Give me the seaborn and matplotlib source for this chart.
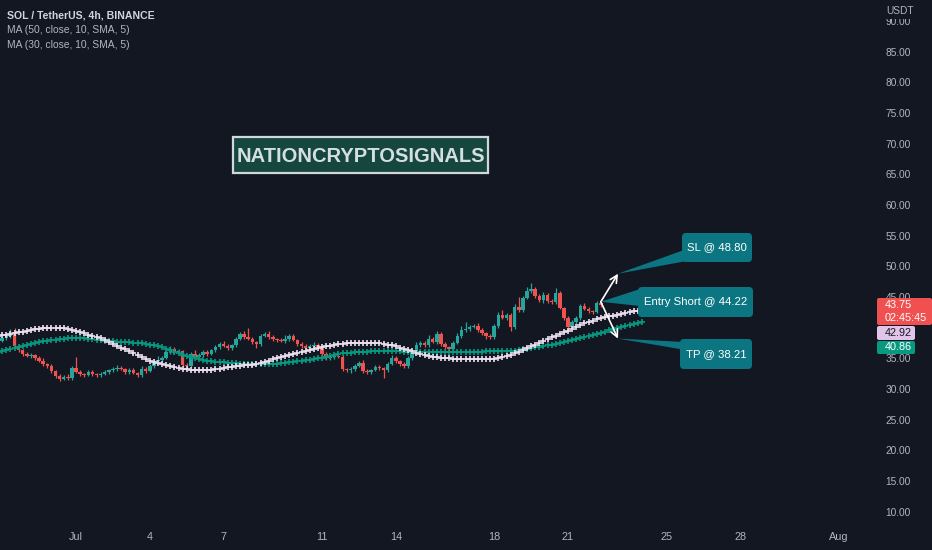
import numpy as np
import pandas as pd
import matplotlib.pyplot as plt
from matplotlib.patches import Polygon, FancyBboxPatch
from matplotlib.transforms import Affine2D
import seaborn as sns

# SOL/USDT 4h closes, Jun 27 20:00 -> Jul 22 08:00
closes = [
    37.82, 38.31, 38.64, 39.29, 37.01, 36.36, 35.70, 35.38, 35.54, 35.05,
    34.56, 34.07, 33.75, 32.93, 32.11, 31.63, 31.95, 31.79, 33.42, 32.77,
    32.44, 32.28, 32.77, 32.44, 32.28, 32.44, 32.77, 33.09, 33.26, 33.42,
    33.26, 32.77, 33.09, 32.60, 32.28, 33.26, 32.93, 33.75, 34.56, 34.72,
    35.05, 36.03, 36.52, 36.03, 36.19, 33.91, 33.75, 35.70, 35.21, 35.54,
    36.03, 35.70, 36.36, 36.84, 37.33, 37.01, 36.68, 37.17, 38.15, 38.97,
    38.48, 38.15, 37.66, 37.33, 38.64, 38.97, 38.48, 38.15, 37.99, 37.82,
    38.15, 38.64, 37.99, 37.33, 37.01, 36.68, 37.01, 37.17, 36.84, 35.70,
    35.05, 35.21, 35.38, 35.21, 33.26, 33.09, 33.26, 33.75, 34.23, 32.93,
    32.77, 33.09, 33.58, 33.42, 33.09, 34.07, 35.05, 34.56, 34.07, 33.75,
    35.05, 36.19, 37.17, 37.50, 37.17, 38.15, 37.66, 38.97, 37.33, 36.84,
    36.52, 37.50, 38.64, 39.62, 39.78, 40.11, 40.27, 39.62, 39.13, 38.64,
    38.48, 40.27, 42.06, 41.57, 42.06, 40.11, 43.37, 42.88, 44.84, 45.98,
    46.30, 45.16, 44.51, 45.33, 44.35, 44.18, 45.65, 43.21, 41.57, 40.11,
    40.92, 41.57, 43.53, 43.04, 42.72, 42.55, 44.02, 43.75,
]
first_open = 38.48

# wick length above / below the body of each candle
upper_wick = [
    0.3, 0.4, 0.2, 0.5, 0.6, 0.3, 0.2, 0.4, 0.3, 0.2,
    0.3, 0.5, 0.2, 0.3, 0.2, 0.4, 0.3, 0.5, 0.4, 1.8,
    0.3, 0.2, 0.4, 0.3, 0.2, 0.3, 0.4, 0.2, 0.3, 0.5,
    0.3, 0.2, 0.4, 0.3, 0.2, 0.5, 0.3, 0.4, 0.3, 0.6,
    0.4, 0.3, 0.5, 0.3, 0.4, 0.2, 0.3, 0.4, 0.6, 0.3,
    0.4, 0.3, 0.2, 0.4, 0.3, 0.5, 0.3, 0.2, 0.4, 0.3,
    0.5, 1.4, 0.3, 0.2, 0.4, 0.3, 0.5, 0.3, 0.2, 0.3,
    0.6, 0.4, 0.3, 0.2, 0.3, 0.4, 0.3, 0.5, 0.3, 0.2,
    0.3, 0.4, 0.3, 0.2, 0.3, 0.2, 0.3, 0.4, 0.3, 0.5,
    0.3, 0.2, 0.4, 0.3, 0.2, 0.4, 0.5, 0.3, 0.2, 0.3,
    0.4, 0.3, 0.5, 0.4, 0.3, 0.6, 0.3, 0.5, 0.4, 0.3,
    0.2, 0.4, 0.5, 0.6, 1.1, 0.4, 0.3, 0.5, 0.3, 0.2,
    0.3, 0.4, 0.5, 0.9, 0.4, 0.3, 0.5, 1.6, 0.4, 0.6,
    1.0, 0.4, 0.3, 0.5, 0.3, 0.4, 0.85, 0.3, 0.2, 0.3,
    0.4, 0.3, 0.4, 0.5, 0.3, 0.2, 0.4, 0.3,
]
lower_wick = [
    0.3, 0.2, 0.4, 0.3, 0.3, 0.4, 0.3, 0.2, 0.4, 0.3,
    0.2, 0.4, 0.3, 0.3, 0.4, 0.3, 0.2, 0.4, 0.3, 0.2,
    0.4, 0.3, 0.2, 0.3, 0.4, 0.3, 0.2, 0.4, 0.3, 0.3,
    0.2, 0.4, 0.3, 0.2, 0.3, 0.4, 0.3, 0.2, 0.3, 0.4,
    0.3, 0.2, 0.3, 0.4, 0.3, 0.3, 0.5, 0.3, 0.2, 0.3,
    0.4, 0.3, 0.2, 0.3, 0.4, 0.2, 0.3, 0.4, 0.3, 0.2,
    0.3, 0.2, 0.4, 0.6, 0.3, 0.2, 0.3, 0.4, 0.3, 0.2,
    0.3, 0.4, 0.2, 0.3, 0.4, 0.3, 0.2, 0.3, 0.4, 0.3,
    0.3, 0.4, 0.3, 0.2, 0.4, 0.3, 0.5, 0.3, 0.2, 0.3,
    0.4, 0.3, 0.2, 0.3, 1.3, 0.3, 0.2, 0.4, 0.3, 0.3,
    0.4, 0.3, 0.2, 0.3, 0.4, 0.3, 0.2, 0.3, 0.4, 0.3,
    0.5, 0.3, 0.2, 0.3, 0.4, 0.3, 0.2, 0.3, 0.4, 0.5,
    0.3, 0.4, 0.3, 0.2, 0.3, 0.6, 0.3, 0.4, 0.3, 0.2,
    0.3, 0.4, 0.3, 0.5, 0.3, 0.4, 0.3, 0.2, 0.4, 0.5,
    0.3, 0.4, 0.3, 0.2, 0.4, 0.3, 0.2, 0.3,
]

# MA(50) and MA(30), both shifted 10 bars right -> 10 more points than candles
ma50 = [
    38.60, 38.72, 38.85, 38.98, 39.11, 39.24, 39.37, 39.50, 39.63, 39.75,
    39.86, 39.93, 39.97, 40.00, 40.00, 39.96, 39.89, 39.78, 39.64, 39.45,
    39.25, 39.05, 38.85, 38.65, 38.45, 38.25, 37.95, 37.62, 37.30, 37.02,
    36.75, 36.50, 36.22, 35.92, 35.60, 35.25, 34.92, 34.62, 34.38, 34.18,
    34.00, 33.85, 33.72, 33.58, 33.45, 33.32, 33.20, 33.12, 33.08, 33.06,
    33.06, 33.08, 33.12, 33.20, 33.30, 33.42, 33.55, 33.65, 33.72, 33.78,
    33.84, 33.90, 33.98, 34.10, 34.22, 34.42, 34.62, 34.82, 35.00, 35.18,
    35.36, 35.55, 35.72, 35.90, 36.08, 36.25, 36.40, 36.55, 36.72, 36.85,
    36.96, 37.07, 37.18, 37.27, 37.35, 37.43, 37.50, 37.53, 37.55, 37.56,
    37.56, 37.55, 37.53, 37.50, 37.40, 37.25, 37.10, 36.95, 36.75, 36.55,
    36.35, 36.15, 35.93, 35.72, 35.52, 35.38, 35.26, 35.17, 35.10, 35.05,
    35.00, 34.96, 34.92, 34.90, 34.89, 34.88, 34.88, 34.88, 34.88, 34.89,
    34.90, 34.95, 35.05, 35.15, 35.30, 35.55, 35.80, 36.05, 36.35, 36.65,
    36.95, 37.22, 37.52, 37.82, 38.12, 38.42, 38.70, 38.98, 39.25, 39.50,
    39.80, 40.10, 40.40, 40.68, 40.92, 41.15, 41.35, 41.52, 41.68, 41.82,
    41.95, 42.08, 42.22, 42.36, 42.50, 42.64, 42.78, 42.92,
]
ma30 = [
    36.00, 36.16, 36.32, 36.48, 36.63, 36.78, 36.95, 37.12, 37.30, 37.46,
    37.62, 37.75, 37.86, 37.96, 38.05, 38.13, 38.19, 38.24, 38.28, 38.30,
    38.31, 38.28, 38.22, 38.14, 38.05, 37.98, 37.90, 37.82, 37.75, 37.70,
    37.65, 37.61, 37.58, 37.55, 37.52, 37.47, 37.36, 37.24, 37.10, 36.97,
    36.78, 36.57, 36.34, 36.08, 35.82, 35.58, 35.35, 35.17, 35.00, 34.86,
    34.74, 34.62, 34.53, 34.45, 34.38, 34.32, 34.26, 34.21, 34.17, 34.13,
    34.10, 34.08, 34.06, 34.05, 34.05, 34.05, 34.06, 34.09, 34.14, 34.22,
    34.30, 34.38, 34.46, 34.54, 34.60, 34.67, 34.76, 34.86, 34.98, 35.12,
    35.25, 35.39, 35.52, 35.65, 35.79, 35.89, 35.94, 35.98, 36.02, 36.06,
    36.09, 36.12, 36.15, 36.18, 36.18, 36.17, 36.15, 36.13, 36.11, 36.10,
    36.09, 36.08, 36.07, 36.07, 36.06, 36.05, 36.05, 36.04, 36.04, 36.03,
    36.03, 36.03, 36.03, 36.03, 36.04, 36.05, 36.06, 36.08, 36.09, 36.11,
    36.12, 36.14, 36.15, 36.17, 36.18, 36.20, 36.27, 36.34, 36.44, 36.55,
    36.66, 36.77, 36.88, 36.99, 37.10, 37.23, 37.38, 37.54, 37.70, 37.85,
    38.01, 38.16, 38.35, 38.52, 38.69, 38.86, 39.03, 39.20, 39.37, 39.54,
    39.71, 39.88, 40.05, 40.22, 40.38, 40.54, 40.70, 40.86,
]

day_ticks = [0, 3, 6, 10, 13, 17, 20, 24, 27, 31]
day_labels = ['Jul', '4', '7', '11', '14', '18', '21', '25', '28', 'Aug']
price_ticks = list(range(10, 95, 5))

entry = 44.22
stop_loss = 48.80
take_profit = 38.21
last_price = 43.75
countdown = '02:45:45'

BG = '#131722'
UP = '#26a69a'
DOWN = '#ef5350'
MA50_COL = '#ecdff0'
MA30_COL = '#089981'
TEAL = '#0b7682'
AX_TXT = '#b2b5be'

sns.set_style('dark', {'axes.facecolor': BG, 'figure.facecolor': BG,
                       'axes.edgecolor': BG, 'text.color': AX_TXT,
                       'xtick.color': AX_TXT, 'ytick.color': AX_TXT})
plt.rcParams['font.family'] = ['Liberation Sans', 'DejaVu Sans']

W, H = 932, 550
fig = plt.figure(figsize=(W / 100, H / 100), dpi=100)
# pixel coords of the reference picture, origin top-left
pix = Affine2D().scale(1 / W, -1 / H).translate(0, 1) + fig.transFigure
ax = fig.add_axes([0, 1 - 522 / H, 878 / W, 522 / H])

# candles (times in days from Jul 1 00:00, one bar every 4h)
n = len(closes)
df = pd.DataFrame({'t': np.arange(n) / 6 - 19 / 6, 'close': closes})
df['open'] = [first_open] + closes[:-1]
df['top'] = df[['open', 'close']].max(axis=1)
df['bot'] = df[['open', 'close']].min(axis=1)
df['high'] = df['top'] + upper_wick
df['low'] = df['bot'] - lower_wick
cols = np.where(df['close'] >= df['open'], UP, DOWN)

ax.vlines(df['t'], df['low'], df['high'], color=cols, lw=0.9, zorder=2)
ax.bar(df['t'], (df['top'] - df['bot']).clip(lower=0.08), bottom=df['bot'],
       width=0.14, color=cols, linewidth=0, zorder=2)

t_ma = np.arange(len(ma50)) / 6 - 19 / 6
sns.scatterplot(x=t_ma, y=ma30, marker='+', s=15, color=MA30_COL,
                linewidth=1.2, ax=ax, zorder=3, legend=False)
sns.scatterplot(x=t_ma, y=ma50, marker='+', s=15, color=MA50_COL,
                linewidth=1.2, ax=ax, zorder=3, legend=False)

ax.set_xlim(-76 / 24.6, (878 - 76) / 24.6)
ax.set_ylim(45 - 225 / 6.13, 45 + 297 / 6.13)
ax.set_xticks(day_ticks)
ax.set_xticklabels(day_labels)
ax.set_yticks(price_ticks)
# 40.00 sits fully under the price labels on the scale
ax.set_yticklabels(['' if p == 40 else f'{p:.2f}' for p in price_ticks])
ax.yaxis.tick_right()
ax.tick_params(axis='x', length=0, pad=7, labelsize=7.8, colors=AX_TXT)
ax.tick_params(axis='y', length=0, pad=5.5, labelsize=7.3, colors=AX_TXT)
ax.set_xlabel('')
ax.set_ylabel('')
ax.grid(False)
for s in ax.spines.values():
    s.set_visible(False)


def to_px(t, p):
    x, y = ax.transData.transform((t, p))
    return x, H - y


# trade setup: arrows from the last candle to SL / TP
t_last = df['t'].iloc[-1]
t_arrow = t_last + 0.7
for target in (stop_loss, take_profit):
    ax.annotate('', xy=(t_arrow, target), xytext=(t_last, entry),
                arrowprops=dict(arrowstyle='->', color='white', lw=1.2,
                                mutation_scale=13, shrinkA=0, shrinkB=0),
                zorder=5)


def box(x0, y0, x1, y1, fc, ec='none', lw=0, style='round,pad=0,rounding_size=4'):
    fig.add_artist(FancyBboxPatch((x0, y0), x1 - x0, y1 - y0, boxstyle=style,
                                  transform=pix, fc=fc, ec=ec, lw=lw, zorder=5))


def callout(text, rect, tip, base):
    fig.add_artist(Polygon([tip] + base, closed=True, transform=pix,
                           fc=TEAL, ec='none', zorder=5))
    box(*rect, TEAL)
    fig.text((rect[0] + rect[2]) / 2, (rect[1] + rect[3]) / 2, text,
             transform=pix, ha='center', va='center', color='white',
             fontsize=8.2, zorder=6)


callout(f'SL @ {stop_loss:.2f}', (682, 233, 752, 262),
        to_px(t_arrow, stop_loss), [(684, 250), (692, 260)])
callout(f'Entry Short @ {entry:.2f}', (638, 287, 753, 317),
        to_px(t_last, entry), [(640, 289), (640, 306)])
callout(f'TP @ {take_profit:.2f}', (680, 339, 752, 369),
        to_px(t_arrow, take_profit), [(684, 342), (686, 350)])

# watermark
box(233, 137, 488, 173, '#16473e', ec='#cfd8dc', lw=1.6, style='square,pad=0')
fig.text(360.5, 156, 'NATIONCRYPTOSIGNALS', transform=pix, ha='center',
         va='center', fontsize=14.5, fontweight='bold', color='#d5dfe2', zorder=6)

# legend / header
fig.text(7, 15, 'SOL / TetherUS, 4h, BINANCE', transform=pix, ha='left',
         va='center', fontsize=7.6, fontweight='bold', color='#d1d4dc')
fig.text(7, 30, 'MA (50, close, 10, SMA, 5)', transform=pix, ha='left',
         va='center', fontsize=7.4, color=AX_TXT)
fig.text(7, 44.5, 'MA (30, close, 10, SMA, 5)', transform=pix, ha='left',
         va='center', fontsize=7.4, color=AX_TXT)

# price scale header
box(878, 0, W, 19, BG, style='square,pad=0')
fig.text(886, 11.5, 'USDT', transform=pix, ha='left', va='center',
         fontsize=7.3, color=AX_TXT, zorder=6)

# last price / MA value labels on the price scale
box(877, 298, W, 325, '#f0504f', style='round,pad=0,rounding_size=2')
fig.text(885, 304.5, f'{last_price:.2f}', transform=pix, ha='left',
         va='center', fontsize=7.8, color='white', zorder=6)
fig.text(885, 318, countdown, transform=pix, ha='left', va='center',
         fontsize=7.8, color='white', zorder=6)
box(877, 326, 915, 340, '#e1c5e8', style='round,pad=0,rounding_size=2')
fig.text(885, 333, f'{ma50[-1]:.2f}', transform=pix, ha='left', va='center',
         fontsize=7.8, color=BG, zorder=6)
box(877, 341, 915, 354, MA30_COL, style='round,pad=0,rounding_size=2')
fig.text(885, 347.5, f'{ma30[-1]:.2f}', transform=pix, ha='left', va='center',
         fontsize=7.8, color='white', zorder=6)

fig.savefig('out.png', dpi=100, facecolor=BG)
